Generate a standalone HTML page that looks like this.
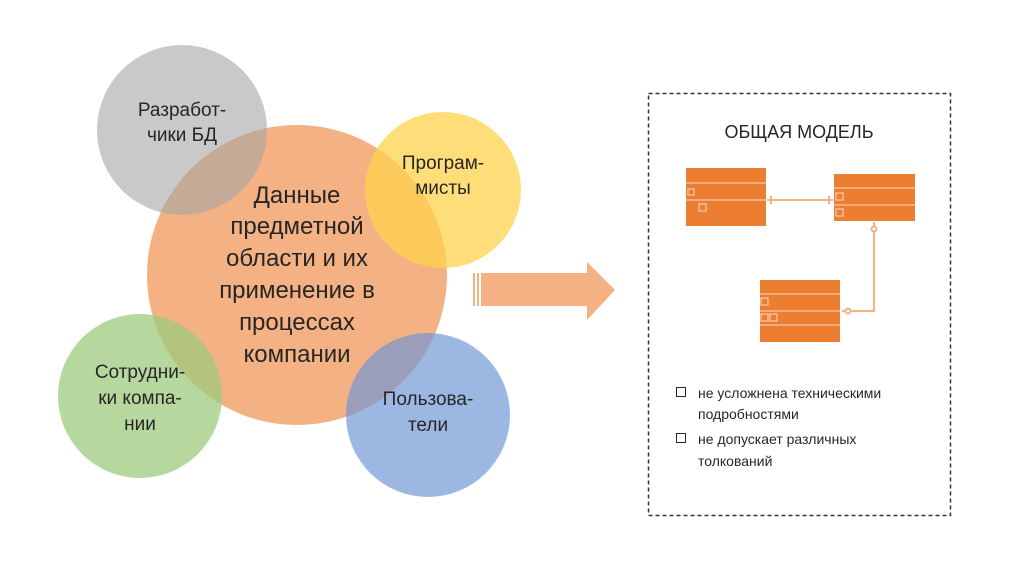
<!DOCTYPE html>
<html><head><meta charset="utf-8"><style>
body{margin:0;background:#fff;width:1024px;height:574px;overflow:hidden;font-family:"Liberation Sans","DejaVu Sans",sans-serif}
</style></head><body>
<svg width="1024" height="574" xmlns="http://www.w3.org/2000/svg" font-family="Liberation Sans, DejaVu Sans, sans-serif">
<circle cx="297" cy="275" r="150" fill="#F4B183"/>
<circle cx="182" cy="130" r="85" fill="#A5A5A5" opacity="0.6"/>
<circle cx="443" cy="190" r="78" fill="#FFD34D" opacity="0.75"/>
<circle cx="140" cy="396" r="82" fill="#9DCB7E" opacity="0.75"/>
<circle cx="428" cy="415" r="82" fill="#6F95D6" opacity="0.68"/>
<g font-size="24" fill="#262626" text-anchor="middle">
<text x="297" y="203">Данные</text>
<text x="297" y="234">предметной</text>
<text x="297" y="266">области и их</text>
<text x="297" y="298">применение в</text>
<text x="297" y="330">процессах</text>
<text x="297" y="362">компании</text>
</g>
<g font-size="19" fill="#262626" text-anchor="middle">
<text x="182" y="116">Разработ-</text>
<text x="182" y="141">чики БД</text>
<text x="443" y="169">Програм-</text>
<text x="443" y="194">мисты</text>
<text x="140" y="378">Сотрудни-</text>
<text x="140" y="404">ки компа-</text>
<text x="140" y="430">нии</text>
<text x="428" y="405">Пользова-</text>
<text x="428" y="431">тели</text>
</g>
<g fill="#F4B183">
<rect x="473" y="273" width="2" height="33"/><rect x="477" y="273" width="2" height="33"/>
<polygon points="481,273 587,273 587,262 615,290 587,320 587,306 481,306"/>
</g>
<rect x="648.5" y="93.5" width="302" height="422" fill="none" stroke="#333" stroke-width="1.5" stroke-dasharray="4,3"/>
<text x="799" y="138" font-size="18" fill="#262626" text-anchor="middle">ОБЩАЯ МОДЕЛЬ</text>
<g fill="#ED7D31">
<rect x="686" y="168" width="80" height="58"/>
<rect x="834" y="174" width="81" height="47"/>
<rect x="760" y="280" width="80" height="62"/>
</g>
<g stroke="#F8CBAD" stroke-width="1.2" fill="none">
<line x1="686" y1="183" x2="766" y2="183"/><line x1="686" y1="200" x2="766" y2="200"/>
<line x1="834" y1="188" x2="915" y2="188"/><line x1="834" y1="205" x2="915" y2="205"/>
<line x1="760" y1="294" x2="840" y2="294"/><line x1="760" y1="311" x2="840" y2="311"/><line x1="760" y1="325" x2="840" y2="325"/>
<rect x="688" y="189" width="6" height="6"/><rect x="699" y="204" width="7" height="7"/>
<rect x="836" y="193" width="7" height="7"/><rect x="836" y="209" width="7" height="7"/>
<rect x="761" y="298" width="7" height="7"/><rect x="761" y="314" width="7" height="7"/><rect x="770" y="314" width="7" height="7"/>
</g>
<g stroke="#F4B183" stroke-width="2" fill="none">
<line x1="767" y1="200" x2="833" y2="200"/>
<polyline points="874,222 874,311 842,311"/>
<line x1="771" y1="196" x2="771" y2="204"/><line x1="829" y1="196" x2="829" y2="204"/>
<circle cx="874" cy="229" r="2.5" fill="#fff"/><circle cx="848" cy="311" r="2.5" fill="#fff"/>
</g>
<g font-size="14" fill="#262626">
<rect x="676.5" y="387.5" width="9" height="9" fill="none" stroke="#262626"/>
<text x="698" y="398">не усложнена техническими</text>
<text x="698" y="419">подробностями</text>
<rect x="676.5" y="433.5" width="9" height="9" fill="none" stroke="#262626"/>
<text x="698" y="444">не допускает различных</text>
<text x="698" y="466">толкований</text>
</g>
</svg>
</body></html>
